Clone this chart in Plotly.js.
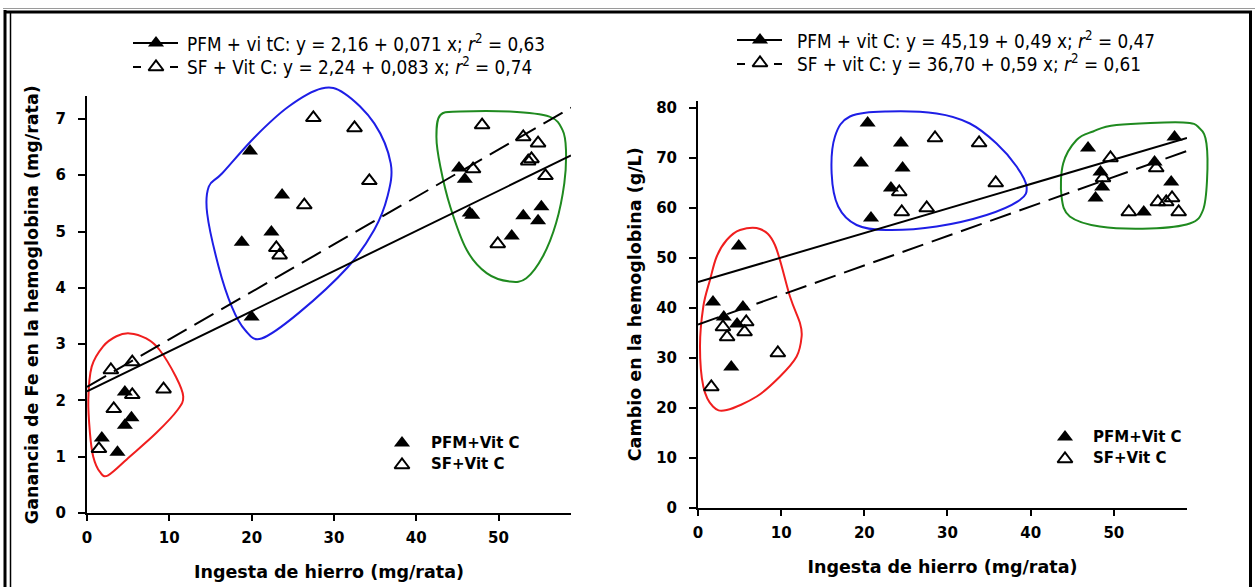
<!DOCTYPE html>
<html><head><meta charset="utf-8">
<script src="https://cdn.plot.ly/plotly-3.0.1.min.js"></script>
<style>html,body{margin:0;padding:0;background:#fff}#chart{width:1255px;height:587px}</style>
</head><body><div id="chart"></div>
<script>
// ---------- DATA ----------
// Left panel: Ganancia de Fe en la hemoglobina (mg/rata) vs Ingesta de hierro (mg/rata)
const leftPfmX = [1.8, 3.7, 4.6, 4.6, 5.4, 18.8, 19.8, 20.0, 22.4, 23.7, 45.2, 45.9, 46.5, 46.8, 51.6, 53.0, 54.8, 55.2];
const leftPfmY = [1.33, 1.08, 2.15, 1.56, 1.69, 4.81, 6.43, 3.48, 4.99, 5.65, 6.13, 5.93, 5.33, 5.29, 4.92, 5.28, 5.19, 5.44];
const leftSfX = [1.45, 2.9, 3.25, 5.5, 5.5, 9.3, 23.0, 23.4, 26.4, 27.5, 32.5, 34.3, 46.9, 48.0, 49.9, 53.0, 53.6, 54.0, 54.8, 55.7];
const leftSfY = [1.14, 2.54, 1.85, 2.68, 2.10, 2.20, 4.71, 4.58, 5.47, 7.02, 6.84, 5.90, 6.11, 6.89, 4.78, 6.68, 6.25, 6.29, 6.57, 5.99];
// Regression lines (left): end points
const leftPfmLineX = [0, 58.8];
const leftPfmLineY = [2.16, 6.35];
const leftSfLineX = [0, 58.8];
const leftSfLineY = [2.24, 7.2];

// Right panel: Cambio en la hemoglobina (g/L) vs Ingesta de hierro (mg/rata)
const rightPfmX = [4.9, 1.8, 5.4, 3.1, 4.7, 4.0, 20.4, 24.4, 19.6, 24.6, 23.2, 20.8, 46.9, 57.3, 48.4, 48.6, 47.8, 54.9, 56.9, 53.6];
const rightPfmY = [52.4, 41.2, 40.2, 38.2, 36.8, 28.2, 77.0, 73.0, 69.0, 68.0, 64.0, 58.0, 72.0, 74.2, 67.2, 64.2, 62.0, 69.2, 65.2, 59.2];
const rightSfX = [5.8, 3.0, 5.6, 3.5, 9.6, 1.6, 28.5, 33.8, 35.8, 24.2, 24.5, 27.5, 49.6, 48.7, 55.1, 51.8, 55.3, 56.3, 57.0, 57.8];
const rightSfY = [37.2, 36.2, 35.2, 34.2, 31.0, 24.2, 74.0, 73.0, 65.0, 63.2, 59.2, 60.0, 70.0, 66.0, 68.0, 59.2, 61.2, 61.2, 62.0, 59.2];
const rightPfmLineX = [0, 58.8];
const rightPfmLineY = [45.19, 74.0];
const rightSfLineX = [0, 58.8];
const rightSfLineY = [36.70, 71.4];

// Group outlines (data coordinates) drawn around the clusters
const leftRedX = [5.18, 7.19, 8.80, 10.80, 11.69, 11.0, 8.40, 5.18, 2.57, 1.57, 0.76, 0.36, 0.16, 0.57, 1.96, 3.58];
const leftRedY = [3.19, 3.10, 2.90, 2.42, 2.07, 1.83, 1.42, 1.00, 0.67, 0.73, 1.00, 1.42, 2.01, 2.60, 2.96, 3.14];
const leftBlueX = [28.5, 31.3, 34.9, 36.9, 36.5, 34.9, 31.7, 25.7, 21.2, 19.2, 17.6, 16.0, 14.6, 14.8, 16.4, 20.4, 24.5];
const leftBlueY = [7.54, 7.45, 6.92, 6.21, 5.62, 5.03, 4.37, 3.55, 3.10, 3.25, 3.66, 4.37, 5.32, 5.80, 6.03, 6.68, 7.22];
const leftGreenX = [42.93, 45.34, 51.36, 56.18, 57.78, 58.19, 57.99, 56.99, 55.39, 53.37, 51.36, 48.55, 46.14, 44.13, 42.93, 42.45];
const leftGreenY = [7.07, 7.13, 7.13, 7.04, 6.80, 6.45, 5.86, 5.15, 4.56, 4.17, 4.11, 4.26, 4.67, 5.44, 6.15, 6.68];
const rightRedX = [5.05, 7.45, 9.25, 11.06, 12.26, 12.46, 11.86, 9.86, 7.06, 3.45, 1.80, 0.64, 0.24, 0.64, 1.44, 2.25, 3.45];
const rightRedY = [55.6, 55.8, 52.6, 42.3, 37.0, 34.3, 30.3, 26.3, 22.3, 19.6, 20.3, 24.3, 32.3, 40.3, 45.6, 50.3, 53.6];
const rightBlueX = [22.68, 28.69, 32.69, 35.90, 38.31, 39.51, 38.70, 34.70, 28.69, 22.68, 19.07, 16.86, 16.07, 16.47, 18.27];
const rightBlueY = [79.3, 78.9, 76.9, 72.9, 68.3, 64.3, 61.6, 58.6, 56.3, 55.6, 56.6, 60.3, 66.9, 74.3, 78.3];
const rightGreenX = [50.32, 58.33, 60.34, 61.14, 61.21, 60.73, 59.13, 54.33, 48.32, 44.71, 43.71, 43.91, 45.52, 47.51];
const rightGreenY = [76.6, 77.1, 75.9, 72.9, 65.6, 59.6, 56.9, 55.9, 56.3, 58.3, 62.3, 68.9, 73.6, 75.3];

// Text
const xTitle = 'Ingesta de hierro (mg/rata)';
const leftYTitle = 'Ganancia de Fe en la hemoglobina (mg/rata)';
const rightYTitle = 'Cambio en la hemoglobina (g/L)';
const leftEq = ['PFM + vi tC: y = 2,16 + 0,071 x; <i>r</i><sup>2</sup> = 0,63',
                'SF + Vit C: y = 2,24 + 0,083 x; <i>r</i><sup>2</sup> = 0,74'];
const rightEq = ['PFM + vit C: y = 45,19 + 0,49 x; <i>r</i><sup>2</sup> = 0,47',
                 'SF + vit C: y = 36,70 + 0,59 x; <i>r</i><sup>2</sup> = 0,61'];
const groupNames = ['PFM+Vit C', 'SF+Vit C'];

// ---------- LAYOUT HELPERS ----------
const W = 1255, H = 587;
const px = v => v / W;             // pixel -> paper x
const py = v => 1 - v / H;         // pixel -> paper y
const RANGES = {
  x: [0, 58.8], y: [0, 7.4], x2: [0, 58.8], y2: [0, 81.5]
};
function toDom(v, r) { return (v - r[0]) / (r[1] - r[0]); }
function closedSpline(xs, ys, xr, yr) {
  const X = xs.map(v => toDom(v, xr)), Y = ys.map(v => toDom(v, yr));
  const n = X.length, f = v => v.toFixed(5);
  let d = 'M' + f(X[0]) + ',' + f(Y[0]);
  for (let i = 0; i < n; i++) {
    const a = (i - 1 + n) % n, b = i, c = (i + 1) % n, e = (i + 2) % n;
    const c1x = X[b] + (X[c] - X[a]) / 6, c1y = Y[b] + (Y[c] - Y[a]) / 6;
    const c2x = X[c] - (X[e] - X[b]) / 6, c2y = Y[c] - (Y[e] - Y[b]) / 6;
    d += ' C' + f(c1x) + ',' + f(c1y) + ' ' + f(c2x) + ',' + f(c2y) + ' ' + f(X[c]) + ',' + f(Y[c]);
  }
  return d + ' Z';
}
function loop(xs, ys, xa, ya, color) {
  return { type: 'path', xref: xa + ' domain', yref: ya + ' domain',
    path: closedSpline(xs, ys, RANGES[xa], RANGES[ya]),
    line: { color: color, width: 2 }, layer: 'below' };
}
const RED = '#f01e1e', BLUE = '#1e1ee6', GREEN = '#1f8a1f';

// ---------- TRACES ----------
const filled = { symbol: 'triangle-up', size: 14, color: '#000' };
const open = { symbol: 'triangle-up-open', size: 13, color: '#000', line: { width: 2, color: '#000' } };
const traces = [
  { x: leftPfmLineX, y: leftPfmLineY, mode: 'lines', line: { color: '#000', width: 2 }, xaxis: 'x', yaxis: 'y', hoverinfo: 'skip' },
  { x: leftSfLineX, y: leftSfLineY, mode: 'lines', line: { color: '#000', width: 2, dash: '22px,9px' }, xaxis: 'x', yaxis: 'y', hoverinfo: 'skip' },
  { x: leftPfmX, y: leftPfmY, mode: 'markers', marker: filled, xaxis: 'x', yaxis: 'y', name: groupNames[0] },
  { x: leftSfX, y: leftSfY, mode: 'markers', marker: open, xaxis: 'x', yaxis: 'y', name: groupNames[1] },
  { x: rightPfmLineX, y: rightPfmLineY, mode: 'lines', line: { color: '#000', width: 2 }, xaxis: 'x2', yaxis: 'y2', hoverinfo: 'skip' },
  { x: rightSfLineX, y: rightSfLineY, mode: 'lines', line: { color: '#000', width: 2, dash: '22px,9px' }, xaxis: 'x2', yaxis: 'y2', hoverinfo: 'skip' },
  { x: rightPfmX, y: rightPfmY, mode: 'markers', marker: filled, xaxis: 'x2', yaxis: 'y2', name: groupNames[0] },
  { x: rightSfX, y: rightSfY, mode: 'markers', marker: open, xaxis: 'x2', yaxis: 'y2', name: groupNames[1] }
];

// Legend symbols (drawn on an invisible full-page overlay axis in pixel units)
const symFilled = { x: [156, 760, 402, 1065], y: [43, 40, 443, 437] };
const symOpen = { x: [156, 760, 402, 1065], y: [67, 63, 465, 459] };
traces.push({ x: symFilled.x, y: symFilled.y, mode: 'markers', marker: filled, xaxis: 'x3', yaxis: 'y3', hoverinfo: 'skip', cliponaxis: false });
traces.push({ x: symOpen.x, y: symOpen.y, mode: 'markers', marker: open, xaxis: 'x3', yaxis: 'y3', hoverinfo: 'skip', cliponaxis: false });
traces.forEach(t => t.showlegend = false);

// ---------- LAYOUT ----------
const tickFont = { family: 'DejaVu Sans, Arial, sans-serif', size: 15, color: '#000', weight: 'bold' };
const titleFont = { family: 'DejaVu Sans, Arial, sans-serif', size: 17.5, color: '#000', weight: 'bold' };
function xAxis(domain, anchor, range) {
  return { domain: domain, anchor: anchor, range: range, dtick: 10, tick0: 0,
    showline: true, linewidth: 2, linecolor: '#000', ticks: 'outside', ticklen: 6, tickwidth: 2, tickcolor: '#000',
    showgrid: false, zeroline: false, tickfont: tickFont, fixedrange: true, ticklabelstandoff: 4,
    title: { text: xTitle, font: titleFont, standoff: 20 } };
}
function yAxis(domain, anchor, range, dtick, title, standoff) {
  return { domain: domain, anchor: anchor, range: range, dtick: dtick, tick0: 0,
    showline: true, linewidth: 2, linecolor: '#000', ticks: 'outside', ticklen: 7, tickwidth: 2, tickcolor: '#000',
    showgrid: false, zeroline: false, tickfont: tickFont, fixedrange: true, ticklabelstandoff: 9,
    title: { text: title, font: titleFont, standoff: standoff } };
}

const shapes = [
  loop(leftRedX, leftRedY, 'x', 'y', RED),
  loop(leftBlueX, leftBlueY, 'x', 'y', BLUE),
  loop(leftGreenX, leftGreenY, 'x', 'y', GREEN),
  loop(rightRedX, rightRedY, 'x2', 'y2', RED),
  loop(rightBlueX, rightBlueY, 'x2', 'y2', BLUE),
  loop(rightGreenX, rightGreenY, 'x2', 'y2', GREEN),
  // page frame
  { type: 'line', xref: 'paper', yref: 'paper', x0: px(3), x1: px(1255), y0: py(8.5), y1: py(8.5), line: { color: '#9a9a9a', width: 1 } },
  { type: 'line', xref: 'paper', yref: 'paper', x0: px(4), x1: px(1252), y0: py(12), y1: py(12), line: { color: '#000', width: 3 } },
  { type: 'line', xref: 'paper', yref: 'paper', x0: px(5), x1: px(5), y0: py(10), y1: py(587), line: { color: '#000', width: 3 } },
  { type: 'line', xref: 'paper', yref: 'paper', x0: px(10.5), x1: px(10.5), y0: py(12), y1: py(587), line: { color: '#000', width: 1.5 } },
  { type: 'line', xref: 'paper', yref: 'paper', x0: px(1250.5), x1: px(1250.5), y0: py(11), y1: py(587), line: { color: '#000', width: 3 } },
  // legend line samples
  { type: 'line', xref: 'paper', yref: 'paper', x0: px(133), x1: px(178), y0: py(43), y1: py(43), line: { color: '#000', width: 2 } },
  { type: 'line', xref: 'paper', yref: 'paper', x0: px(133), x1: px(178), y0: py(67), y1: py(67), line: { color: '#000', width: 2, dash: '8px,29px' } },
  { type: 'line', xref: 'paper', yref: 'paper', x0: px(737), x1: px(782), y0: py(40), y1: py(40), line: { color: '#000', width: 2 } },
  { type: 'line', xref: 'paper', yref: 'paper', x0: px(737), x1: px(782), y0: py(64), y1: py(64), line: { color: '#000', width: 2, dash: '8px,29px' } }
];

const eqFont = { family: 'Liberation Sans Narrow, Arial Narrow, DejaVu Sans Condensed, sans-serif', size: 18.8, color: '#000' };
const lgFont = { family: 'DejaVu Sans, Arial, sans-serif', size: 15, color: '#000', weight: 'bold' };
const ann = (text, x, y, font, w, h) => ({ text: text, xref: 'paper', yref: 'paper', x: px(x), y: py(y),
  xanchor: 'left', yanchor: 'middle', align: 'left', valign: 'middle', width: w, height: h,
  borderpad: 0, showarrow: false, font: font });
const annotations = [
  ann(leftEq[0], 186, 43, eqFont, 380, 24), ann(leftEq[1], 186, 66, eqFont, 380, 24),
  ann(rightEq[0], 796, 40, eqFont, 380, 24), ann(rightEq[1], 796, 63, eqFont, 380, 24),
  ann(groupNames[0], 430, 443, lgFont, 110, 20), ann(groupNames[1], 430, 464, lgFont, 110, 20),
  ann(groupNames[0], 1092, 437, lgFont, 110, 20), ann(groupNames[1], 1092, 458, lgFont, 110, 20)
];

const layout = {
  width: W, height: H, margin: { l: 0, r: 0, t: 0, b: 0 },
  paper_bgcolor: '#fff', plot_bgcolor: 'rgba(0,0,0,0)', showlegend: false,
  xaxis: xAxis([px(87), px(571)], 'y', RANGES.x),
  yaxis: yAxis([py(513), py(96.4)], 'x', RANGES.y, 1, leftYTitle, 12),
  xaxis2: xAxis([px(698), px(1187)], 'y2', RANGES.x2),
  yaxis2: yAxis([py(508), py(100.5)], 'x2', RANGES.y2, 10, rightYTitle, 10),
  xaxis3: { domain: [0, 1], anchor: 'y3', range: [0, W], visible: false, fixedrange: true },
  yaxis3: { domain: [0, 1], anchor: 'x3', range: [H, 0], visible: false, fixedrange: true },
  shapes: shapes, annotations: annotations
};

Plotly.newPlot('chart', traces, layout, { displayModeBar: false, responsive: false });
</script>
</body></html>
